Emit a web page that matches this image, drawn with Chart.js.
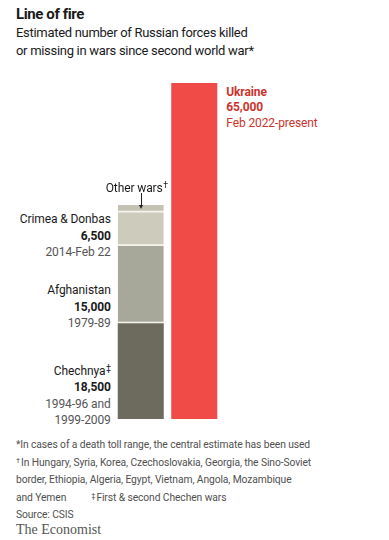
<!DOCTYPE html>
<html>
<head>
<meta charset="utf-8">
<script src="https://cdn.jsdelivr.net/npm/chart.js@4.4.1/dist/chart.umd.min.js"></script>
<style>
  html, body { margin: 0; padding: 0; background: #fff; }
  #wrap { position: relative; width: 389px; height: 540px; overflow: hidden; font-family: Roboto, "Noto Sans", sans-serif; color: #1a1a1a; }
  .title { position: absolute; left: 16px; top: 5px; font-size: 15px; font-weight: bold; letter-spacing: -0.4px; }
  .sub { position: absolute; left: 16px; top: 24px; font-size: 13px; line-height: 18px; letter-spacing: -0.3px; color: #1a1a1a; }
  #cv { position: absolute; left: 114px; top: 83px; }
  .lbl { position: absolute; font-size: 12px; line-height: 16.5px; letter-spacing: -0.1px; text-align: right; white-space: nowrap; }
  .lbl .nm { color: #1a1a1a; }
  .lbl .val { font-weight: bold; color: #1a1a1a; }
  .lbl .per { color: #555; }
  .ukr { text-align: left; }
  .ukr .nm, .ukr .val, .ukr .per { color: #cb342d; }
  .ukr .nm { font-weight: bold; }
  #other { position: absolute; font-size: 12px; line-height: 16px; letter-spacing: -0.1px; white-space: nowrap; transform: translateX(-50%); }
  .mark { font-size: 0.72em; vertical-align: 0.45em; margin-left: 0.5px; }
  #arrow { position: absolute; width: 1px; background: #222; }
  #arrowhead { position: absolute; width: 0; height: 0; border-left: 2.5px solid transparent; border-right: 2.5px solid transparent; border-top: 4px solid #222; }
  .notes { position: absolute; left: 16px; top: 437px; font-size: 10.3px; line-height: 16.3px; letter-spacing: -0.1px; color: #505050; white-space: nowrap; }
  .notes .mark { margin-left: 0; margin-right: 1px; }
  .econ { position: absolute; left: 16px; top: 522px; font-family: "Liberation Serif", "DejaVu Serif", serif; font-size: 14px; color: #555; }
</style>
</head>
<body>
<div id="wrap">
  <div class="title">Line of fire</div>
  <div class="sub">Estimated number of Russian forces killed<br>or missing in wars since second world war*</div>
  <canvas id="cv" width="107" height="336"></canvas>
  <div id="labels"></div>
  <div class="notes">*In cases of a death toll range, the central estimate has been used<br><span class="mark">†</span>In Hungary, Syria, Korea, Czechoslovakia, Georgia, the Sino-Soviet<br>border, Ethiopia, Algeria, Egypt, Vietnam, Angola, Mozambique<br>and Yemen<span style="display:inline-block;width:25px"></span><span class="mark">‡</span>First &amp; second Chechen wars<br>Source: CSIS</div>
  <div class="econ">The Economist</div>
</div>
<script>
// ---- data ----
const columns = ['Previous wars', 'Ukraine'];
const wars = ['Chechnya‡', 'Afghanistan', 'Crimea & Donbas', 'Other wars†', 'Ukraine'];
const deaths = [18500, 15000, 6500, 1400, 65000];
const deathLabels = ['18,500', '15,000', '6,500', '', '65,000'];
const periods = [['1994-96 and', '1999-2009'], ['1979-89'], ['2014-Feb 22'], [], ['Feb 2022-present']];
const column = [0, 0, 0, 0, 1];
const colours = ['#6c6b5e', '#a8a89a', '#cdcbbc', '#c4c2b3', '#f04b46'];
const yMax = 65000;

const datasets = wars.map((w, i) => ({
  label: w,
  data: columns.map((c, j) => (column[i] === j ? deaths[i] : null)),
  backgroundColor: colours[i],
  borderColor: '#f4f3ec',
  borderWidth: (i > 0 && i < 4) ? { top: 0, bottom: 1.5, left: 0, right: 0 } : 0,
  borderSkipped: false,
  categoryPercentage: 1,
  barPercentage: 0.86
}));

const labelsEl = document.getElementById('labels');

function nameHtml(s) {
  const last = s.slice(-1);
  if (last === '†' || last === '‡') return s.slice(0, -1) + '<span class="mark">' + last + '</span>';
  return s.replace('&', '&amp;');
}

function makeBlock(i) {
  const d = document.createElement('div');
  d.className = 'lbl' + (i === 4 ? ' ukr' : '');
  let h = '<div class="nm">' + nameHtml(wars[i]) + '</div>';
  h += '<div class="val">' + deathLabels[i] + '</div>';
  periods[i].forEach(p => { h += '<div class="per">' + p + '</div>'; });
  d.innerHTML = h;
  labelsEl.appendChild(d);
  return d;
}

const placePlugin = {
  id: 'place',
  afterRender(chart) {
    if (chart._placed) return;
    chart._placed = true;
    const cv = chart.canvas;
    const ox = cv.offsetLeft, oy = cv.offsetTop;
    const W = 389;
    [0, 1, 2].forEach(i => {
      const bar = chart.getDatasetMeta(i).data[0];
      const left = ox + bar.x - bar.width / 2;
      const d = makeBlock(i);
      d.style.right = (W - (left - 7)) + 'px';
      const n = 2 + periods[i].length;
      if (i === 2) {
        d.style.top = (oy + bar.y - 1) + 'px';
      } else if (i === 0) {
        d.style.top = (oy + bar.base + 7 - n * 16.5) + 'px';
      } else {
        d.style.top = (oy + bar.base + 8.5 - n * 16.5) + 'px';
      }
    });
    // Ukraine
    const ub = chart.getDatasetMeta(4).data[1];
    const ud = makeBlock(4);
    ud.style.left = (ox + ub.x + ub.width / 2 + 9) + 'px';
    ud.style.top = (oy + ub.y + 2) + 'px';
    ud.style.lineHeight = '15.3px';
    // Other wars
    const ob = chart.getDatasetMeta(3).data[0];
    const o = document.createElement('div');
    o.id = 'other';
    o.innerHTML = nameHtml(wars[3]);
    o.style.left = (ox + ob.x - 4) + 'px';
    o.style.top = (oy + ob.y - 28) + 'px';
    labelsEl.appendChild(o);
    const a = document.createElement('div');
    a.id = 'arrow';
    a.style.left = (ox + ob.x) + 'px';
    a.style.top = (oy + ob.y - 12) + 'px';
    a.style.height = '12px';
    labelsEl.appendChild(a);
    const ah = document.createElement('div');
    ah.id = 'arrowhead';
    ah.style.left = (ox + ob.x - 2) + 'px';
    ah.style.top = (oy + ob.y + 0) + 'px';
    labelsEl.appendChild(ah);
  }
};

new Chart(document.getElementById('cv'), {
  type: 'bar',
  data: { labels: columns, datasets },
  options: {
    responsive: false,
    animation: false,
    layout: { padding: 0 },
    plugins: { legend: { display: false }, tooltip: { enabled: false } },
    scales: {
      x: { stacked: true, display: false },
      y: { stacked: true, display: false, min: 0, max: yMax }
    }
  },
  plugins: [placePlugin]
});
</script>
</body>
</html>
